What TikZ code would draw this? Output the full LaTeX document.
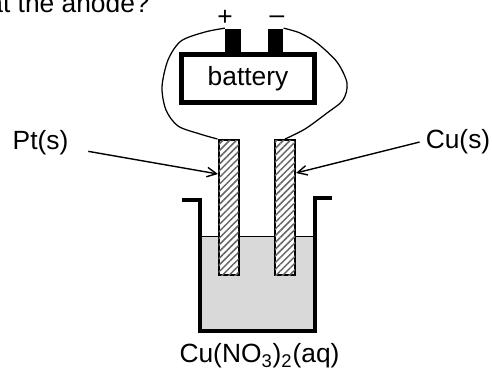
\documentclass[tikz,border=0pt]{standalone}
\usepackage{fontspec}
\setmainfont{Liberation Sans}
\usetikzlibrary{arrows.meta,patterns.meta}
\tikzset{
	wire/.style={line width=0.25mm},
	pointer/.style={line width=0.28mm, -{Straight Barb[length=1.9mm,width=1.9mm]}},
	beakerwall/.style={line width=0.95mm, line join=miter},
	rod/.style={draw, line width=0.4mm, minimum width=0.4cm, minimum height=2.7cm, inner sep=0pt,
		postaction={pattern={Lines[angle=45,distance=0.95mm,line width=0.3mm]}, pattern color=black!60}},
	terminal/.style={fill=black, minimum width=0.31cm, minimum height=0.48cm, inner sep=0pt},
	label/.style={font=\fontsize{15}{17}\selectfont}
}
\begin{document}
\begin{tikzpicture}[x=0.02cm, y=-0.02cm]
	%%%%% START %%%%%
	\useasboundingbox (0, 0) rectangle (492, 370);

	\node[label, anchor=base east, inner sep=0pt] (question) at (150, 12) {at the anode?};

	% liquid
	\draw[fill=black!15, line width=0.2mm] (200, 236) rectangle (315, 331);

	% beaker
	\draw[beakerwall] (182, 200) -- (200, 200) -- (200, 331) -- (315, 331) -- (315, 198) -- (332, 198);

	% electrodes
	\node[rod, fill=white] (ptrod) at (228.5, 207.5) {};
	\node[rod, fill=white] (curod) at (285, 207.5) {};

	% battery
	\node[draw, line width=0.95mm, minimum width=2.66cm, minimum height=0.96cm, label] (battery) at (248, 78.5) {battery};
	\node[terminal] (posterm) at (233, 40.5) {};
	\node[terminal] (negterm) at (275.5, 40.5) {};
	\node[label] (plus) at (225, 18) {+};
	\node[label] (minus) at (277, 20) {--};

	% wires
	\draw[wire] plot[smooth] coordinates {(posterm.north west) (205, 32) (181, 41) (168, 60) (162, 87) (166, 110) (178, 126) (200, 134) (ptrod.north west)};
	\draw[wire] plot[smooth] coordinates {(negterm.north east) (300, 33) (317, 43) (337, 62) (347, 83) (343, 100) (327, 113) (305, 129) (curod.north)};

	% labels
	\node[label] (ptlabel) at (40.5, 143) {Pt(s)};
	\node[label] (culabel) at (458, 142) {Cu(s)};
	\node[label] (solution) at (259.5, 356) {Cu(NO\textsubscript{3})\textsubscript{2}(aq)};

	\coordinate (pttip) at (218, 174);
	\coordinate (cutip) at (296, 173);
	\draw[pointer, shorten <=0.28cm] (ptlabel) -- (pttip);
	\draw[pointer] (culabel.west) -- (cutip);
	%%%%% END %%%%%
\end{tikzpicture}
\end{document}
